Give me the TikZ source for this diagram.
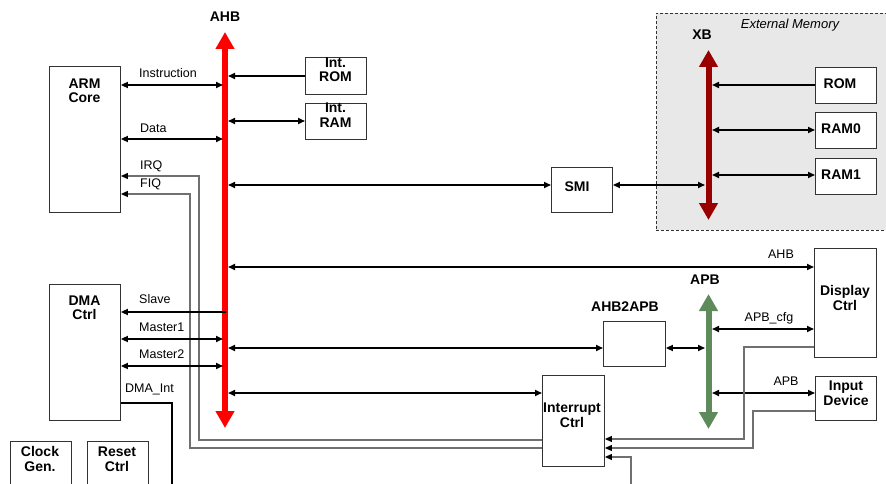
\documentclass[tikz,border=0pt]{standalone}
\usepackage{fontspec}
\setmainfont{Liberation Sans}
\usetikzlibrary{arrows.meta,calc}
\definecolor{ahbred}{HTML}{FF0000}
\definecolor{xbred}{HTML}{990000}
\definecolor{apbgreen}{HTML}{5F8A5C}
\definecolor{extgray}{HTML}{E8E8E8}
\definecolor{irqgray}{HTML}{707070}
\begin{document}
\begin{tikzpicture}[x=1pt,y=-1pt,
  blk/.style={draw=black!80, line width=0.9pt, fill=white, anchor=north west, inner sep=0pt},
  btxt/.style={font=\bfseries\fontsize{14}{14.5}\selectfont, align=center, inner sep=0pt},
  lbl/.style={font=\fontsize{12.5}{14}\selectfont, inner sep=0pt},
  ital/.style={font=\itshape\fontsize{13}{14}\selectfont, inner sep=0pt},
  bigtip/.tip={Triangle[width=18pt,length=17pt]},
  smalltip/.tip={Triangle[length=7pt,width=6pt]},
  busline/.style={line width=6pt, bigtip-bigtip},
  conn/.style={line width=1.6pt, black},
  dbl/.style={conn, smalltip-smalltip},
  one/.style={conn, -smalltip},
  irq/.style={line width=1.1pt, draw=irqgray, -{Triangle[length=7pt,width=6pt,black]}},
  wire/.style={line width=1.1pt, black}
]
\useasboundingbox (0,0) rectangle (886,484);
\clip (0,0) rectangle (886,484);

% external memory area
\node[draw=black!80, dashed, dash pattern=on 3pt off 2pt, line width=0.8pt, fill=extgray,
      anchor=north west, minimum width=240pt, minimum height=217pt, inner sep=0pt] (ext) at (656,13) {};
\node[ital] (extT) at (790,25) {External Memory};

% boxes
\node[blk, minimum width=71pt, minimum height=146pt] (arm) at (49,66) {};
\node[blk, minimum width=71pt, minimum height=136pt] (dma) at (49,284) {};
\node[blk, minimum width=61pt, minimum height=37pt] (irom) at (305,57) {};
\node[blk, minimum width=61pt, minimum height=36pt] (iram) at (305,103) {};
\node[blk, minimum width=61pt, minimum height=45pt] (smi) at (551,167) {};
\node[blk, minimum width=61pt, minimum height=36pt] (rom) at (815,67) {};
\node[blk, minimum width=61pt, minimum height=36pt] (ram0) at (815,112) {};
\node[blk, minimum width=61pt, minimum height=36pt] (ram1) at (815,158) {};
\node[blk, minimum width=62pt, minimum height=109pt] (disp) at (814,248) {};
\node[blk, minimum width=61pt, minimum height=44pt] (inpt) at (815,376) {};
\node[blk, minimum width=62pt, minimum height=45pt] (a2a) at (603,321) {};
\node[blk, minimum width=62pt, minimum height=91pt] (intc) at (542,375) {};
\node[blk, minimum width=61pt, minimum height=60pt] (clk) at (10,441) {};
\node[blk, minimum width=61pt, minimum height=60pt] (rst) at (87,441) {};

% box texts
\node[btxt] (armT) at (84.5,91) {ARM\\Core};
\node[btxt] (dmaT) at (84.5,308) {DMA\\Ctrl};
\node[btxt] (iromT) at (335.5,70) {Int.\\ROM};
\node[btxt] (iramT) at (335.5,115) {Int.\\RAM};
\node[btxt] (smiT) at (577,187) {SMI};
\node[btxt] (romT) at (840,84) {ROM};
\node[btxt] (ram0T) at (841,129) {RAM0};
\node[btxt] (ram1T) at (841,175) {RAM1};
\node[btxt] (dispT) at (845,298) {Display\\Ctrl};
\node[btxt] (inptT) at (846,393) {Input\\Device};
\node[btxt] (a2aT) at (625,307) {AHB2APB};
\node[btxt] (intcT) at (572,415) {Interrupt\\Ctrl};
\node[btxt] (clkT) at (40,459) {Clock\\Gen.};
\node[btxt] (rstT) at (117,459) {Reset\\Ctrl};
\node[btxt] (ahbLab) at (225,17) {AHB};
\node[btxt] (xbLab) at (702,35) {XB};
\node[btxt] (apbLab) at (705,280) {APB};

% buses
\coordinate (ahbTop) at (225,32);
\coordinate (ahbBot) at (225,428);
\coordinate (xbTop) at (708.5,50);
\coordinate (xbBot) at (708.5,220);
\coordinate (apbTop) at (708.5,294);
\coordinate (apbBot) at (708.5,429);
\draw[busline, ahbred] (ahbTop) -- (ahbBot);
\draw[busline, xbred] (xbTop) -- (xbBot);
\draw[busline, apbgreen] (apbTop) -- (apbBot);
\coordinate (ahbL) at (223,0);
\coordinate (ahbC) at (226,0);
\coordinate (ahbR) at (228,0);
\coordinate (xbL) at (705,0);
\coordinate (xbR) at (712,0);
\coordinate (apbL) at (705,0);
\coordinate (apbR) at (712,0);

% connectors
\draw[dbl] (arm.east |- 0,85) -- (ahbL |- 0,85);
\draw[dbl] (arm.east |- 0,139) -- (ahbL |- 0,139);
\draw[irq] (intc.west |- 0,440) -- (199,440) -- (199,176) -- (arm.east |- 0,176);
\draw[irq] (intc.west |- 0,448) -- (190,448) -- (190,194) -- (arm.east |- 0,194);
\draw[one] (irom.west |- 0,76) -- (ahbR |- 0,76);
\draw[dbl] (ahbR |- 0,121) -- (iram.west |- 0,121);
\draw[dbl] (ahbR |- 0,185) -- (smi.west |- 0,185);
\draw[dbl] (smi.east |- 0,185) -- (xbL |- 0,185);
\draw[one] (rom.west |- 0,85) -- (xbR |- 0,85);
\draw[dbl] (xbR |- 0,130) -- (ram0.west |- 0,130);
\draw[dbl] (xbR |- 0,175) -- (ram1.west |- 0,175);
\draw[dbl] (ahbR |- 0,267) -- (disp.west |- 0,267);
\draw[one] (ahbC |- 0,312) -- (dma.east |- 0,312);
\draw[dbl] (dma.east |- 0,339) -- (ahbL |- 0,339);
\draw[dbl] (dma.east |- 0,366) -- (ahbL |- 0,366);
\draw[wire] (dma.east |- 0,403) -- (172,403) -- (172,490);
\draw[dbl] (ahbR |- 0,348) -- (a2a.west |- 0,348);
\draw[dbl] (a2a.east |- 0,348) -- (apbL |- 0,348);
\draw[dbl] (apbR |- 0,329) -- (disp.west |- 0,329);
\draw[dbl] (apbR |- 0,393) -- (inpt.west |- 0,393);
\draw[dbl] (ahbR |- 0,393) -- (intc.west |- 0,393);
\draw[irq] (disp.west |- 0,347) -- (744,347) -- (744,439) -- (intc.east |- 0,439);
\draw[irq] (inpt.west |- 0,411) -- (753,411) -- (753,448) -- (intc.east |- 0,448);
\draw[irq] (631,490) -- (631,457) -- (intc.east |- 0,457);

% labels
\node[lbl, anchor=west] (lIns) at (139,73) {Instruction};
\node[lbl, anchor=west] (lDat) at (140,128) {Data};
\node[lbl, anchor=west] (lIrq) at (140,166) {IRQ};
\node[lbl, anchor=west] (lFiq) at (140,184) {FIQ};
\node[lbl, anchor=west] (lSlv) at (139,299) {Slave};
\node[lbl, anchor=west] (lM1) at (139,327) {Master1};
\node[lbl, anchor=west] (lM2) at (139,354) {Master2};
\node[lbl, anchor=west] (lDmaI) at (125,389) {DMA\_Int};
\node[lbl] (lAhb) at (781,254) {AHB};
\node[lbl] (lCfg) at (769,318) {APB\_cfg};
\node[lbl] (lApb) at (786,381) {APB};
\end{tikzpicture}
\end{document}
